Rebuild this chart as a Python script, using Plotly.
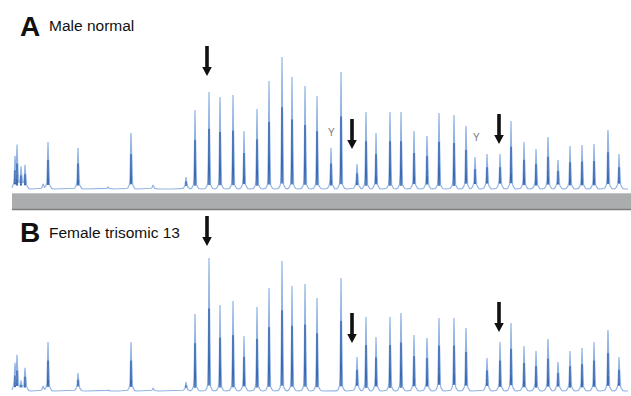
import numpy as np
import plotly.graph_objects as go

W, H = 631, 396

# Peak positions (migration position) and peak heights (relative fluorescence)
peak_pos = [15, 17, 21, 25, 43, 48, 78, 108, 131, 153, 186, 195, 209, 220, 233, 244,
            257, 269, 282, 292, 305, 317, 331, 341, 357, 366, 376, 390, 401, 414, 427,
            439, 454, 466, 475, 487, 500, 511, 524, 536, 548, 558, 570, 582, 594, 608, 619]
heights_male = [30, 41, 22, 24, 5, 47, 41, 2, 56, 4, 12, 79, 97, 92, 94, 58,
                80, 108, 132, 112, 103, 93, 41, 117, 25, 77, 56, 77, 77, 58, 53,
                76, 74, 63, 32, 35, 35, 68, 47, 40, 52, 29, 43, 44, 45, 59, 35]
heights_female = [25, 33, 10, 23, 5, 49, 18, 1, 49, 3, 9, 77, 133, 86, 90, 55,
                  84, 103, 130, 105, 107, 93, 0, 113, 34, 74, 54, 74, 78, 56, 53,
                  73, 73, 63, 0, 33, 49, 68, 45, 40, 52, 29, 40, 43, 49, 61, 34]

# Arrow markers (position, peak top) and Y-chromosome labels
arrows_male = [(207, 112), (352, 39), (499, 44)]
arrows_female = [(207, 144), (352, 47), (499, 58)]
y_labels_male = [(331, 57), (476, 52)]

panels = [
    dict(label="A", title="Male normal", heights=heights_male, arrows=arrows_male,
         ylabels=y_labels_male, base_px=189, top_px=35, ax="y"),
    dict(label="B", title="Female trisomic 13", heights=heights_female, arrows=arrows_female,
         ylabels=[], base_px=391, top_px=215, ax="y2"),
]

xs = np.arange(12, 628.05, 0.1)


def trace_curve(heights, frac, sigma, hump):
    y = np.zeros_like(xs)
    for p, h in zip(peak_pos, heights):
        if h <= 0:
            continue
        d = xs - p
        hb = min(7.0, 0.3 * h) if hump else 0.0
        y += (frac * h - hb) * np.exp(-0.5 * (d / sigma) ** 2)
        if hump:
            y += hb * np.exp(-0.5 * (d / 1.6) ** 2)
    return y


fig = go.Figure()
layout_axes = {}
shapes = []
annotations = []
for i, pn in enumerate(panels):
    xa = "x" if i == 0 else "x2"
    ya = pn["ax"]
    light = trace_curve(pn["heights"], 1.0, 0.45, True)
    dark = trace_curve(pn["heights"], 0.62, 0.3, False)
    dark = np.where(dark > 3, dark, np.nan)
    fig.add_trace(go.Scatter(x=xs, y=light, mode="lines", xaxis=xa, yaxis=ya,
                             line=dict(color="#92b4e4", width=1.2), hoverinfo="skip",
                             showlegend=False))
    fig.add_trace(go.Scatter(x=xs, y=dark, mode="lines", xaxis=xa, yaxis=ya,
                             line=dict(color="#3a68b0", width=1.0), hoverinfo="skip",
                             showlegend=False, connectgaps=False))
    bottom_px = pn["base_px"] + 2
    rng = [-2, pn["base_px"] - pn["top_px"]]
    layout_axes["yaxis" if i == 0 else "yaxis2"] = dict(
        range=rng, domain=[1 - bottom_px / H, 1 - pn["top_px"] / H],
        visible=False, fixedrange=True, anchor=xa)
    layout_axes["xaxis" if i == 0 else "xaxis2"] = dict(
        range=[0, W], domain=[0, 1], visible=False, fixedrange=True, anchor=ya)
    for ax_x, tip in pn["arrows"]:
        t = tip + 1
        path = (f"M {ax_x-1.8},{t+30} L {ax_x+1.8},{t+30} L {ax_x+1.8},{t+9} "
                f"L {ax_x+4.8},{t+9} L {ax_x},{t} L {ax_x-4.8},{t+9} L {ax_x-1.8},{t+9} Z")
        shapes.append(dict(type="path", path=path, xref=xa, yref=ya,
                           fillcolor="#111111", line=dict(width=0)))
    for lx, ly in pn["ylabels"]:
        annotations.append(dict(x=lx, y=ly, xref=xa, yref=ya, text="Y", showarrow=False,
                                font=dict(family="Liberation Sans, Arial", size=10, color="#7a7a7a")))

annotations += [
    dict(x=18 / W, y=1 - 27 / H, xref="paper", yref="paper", text="<b>A</b>", showarrow=False,
         xanchor="left", yanchor="middle", font=dict(family="Liberation Sans, Arial", size=28, color="#111")),
    dict(x=47 / W, y=1 - 26 / H, xref="paper", yref="paper", text="Male normal", showarrow=False,
         xanchor="left", yanchor="middle", font=dict(family="Liberation Sans, Arial", size=15.5, color="#111")),
    dict(x=18 / W, y=1 - 233 / H, xref="paper", yref="paper", text="<b>B</b>", showarrow=False,
         xanchor="left", yanchor="middle", font=dict(family="Liberation Sans, Arial", size=28, color="#111")),
    dict(x=47 / W, y=1 - 232 / H, xref="paper", yref="paper", text="Female trisomic 13", showarrow=False,
         xanchor="left", yanchor="middle", font=dict(family="Liberation Sans, Arial", size=15.5, color="#111")),
]

shapes += [
    dict(type="rect", xref="paper", yref="paper", x0=12 / W, x1=1, y0=1 - 210 / H, y1=1 - 193 / H,
         fillcolor="#abacae", line=dict(width=0), layer="below"),
    dict(type="line", xref="paper", yref="paper", x0=12 / W, x1=1, y0=1 - 209.5 / H, y1=1 - 209.5 / H,
         line=dict(color="#7c7d80", width=1.5)),
    dict(type="line", xref="paper", yref="paper", x0=12 / W, x1=1, y0=1 - 193.5 / H, y1=1 - 193.5 / H,
         line=dict(color="#c4c5c7", width=1)),
]

fig.update_layout(width=W, height=H, margin=dict(l=0, r=0, t=0, b=0),
                  paper_bgcolor="white", plot_bgcolor="rgba(0,0,0,0)",
                  shapes=shapes, annotations=annotations, showlegend=False, **layout_axes)
fig.write_html("out.html", config={"displayModeBar": False},
               post_script="document.body.style.margin='0';document.body.style.overflow='hidden';")
